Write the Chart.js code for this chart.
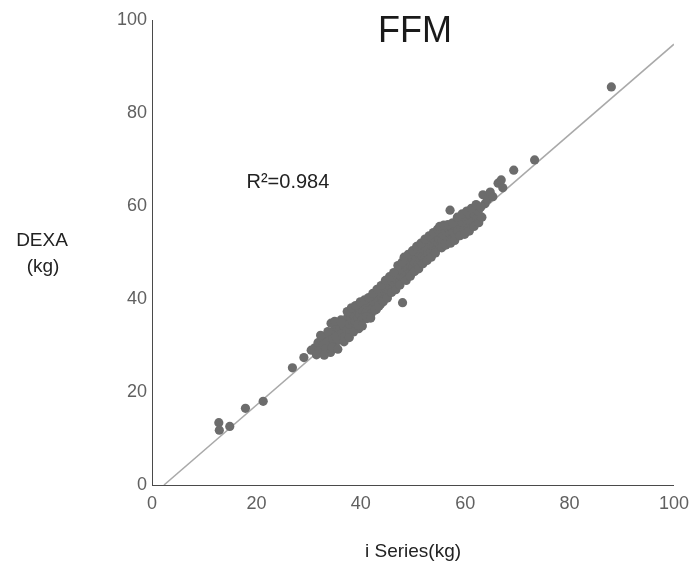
<!DOCTYPE html>
<html>
<head>
<meta charset="utf-8">
<script src="https://cdn.jsdelivr.net/npm/chart.js@4/dist/chart.umd.min.js"></script>
<style>
  html, body { margin: 0; padding: 0; background: #ffffff; }
  #wrap { width: 697px; height: 566px; }
</style>
</head>
<body>
<div id="wrap"><canvas id="c" width="697" height="566"></canvas></div>
<script>
// ---- data ----
const chartTitle = "FFM";
const xAxisTitle = "i Series(kg)";
const yAxisTitleLines = ["DEXA", "(kg)"];
const r2Label = "R\u00B2=0.984";
const r2Anchor = [18.1, 65.0];
const axisTicks = [0, 20, 40, 60, 80, 100];

const iSeriesKg = [
  12.8, 12.9, 14.9, 17.9, 21.3, 26.9, 29.1, 30.5,
  31.2, 31.8, 32.0, 32.5, 32.9, 33.3, 33.5, 33.8, 34.0, 34.2, 34.3, 34.6, 34.9, 35.1, 35.3, 35.5, 35.8, 36.0, 36.2, 36.4,
  36.7, 36.9, 37.1, 37.3, 37.5, 37.7, 37.9, 38.1, 38.3, 38.5, 38.7, 38.9, 39.1, 39.3, 39.5, 39.6, 39.8, 40.0, 40.2, 40.4, 40.6, 40.8, 41.0, 41.2, 41.4, 41.6, 41.8, 42.0,
  42.2, 42.4, 42.6, 42.8, 43.0, 43.2, 43.4, 43.6, 43.8, 44.0, 44.2, 44.4, 44.6, 44.8, 45.0, 45.2, 45.4, 45.6, 45.8, 46.0, 46.2, 46.4, 46.6, 46.8, 47.0, 47.2, 47.4, 47.6, 47.8, 48.0, 48.0,
  48.2, 48.4, 48.6, 48.8, 49.0, 49.2, 49.4, 49.6, 49.8, 50.0, 50.2, 50.4, 50.6, 50.8, 51.0, 51.2, 51.4, 51.6, 51.8, 52.0, 52.2, 52.4, 52.6, 52.8, 53.0, 53.2, 53.4, 53.6, 53.8, 54.0, 54.2, 54.4, 54.6, 54.8,
  55.0, 55.2, 55.4, 55.6, 55.8, 56.0, 56.2, 56.4, 56.6, 56.8, 57.1, 57.0, 57.3, 57.5, 57.7, 57.9, 58.1, 58.4, 58.6, 58.9, 59.2, 59.5, 59.8, 60.1, 60.4, 60.7, 61.0, 61.3, 61.6, 61.9, 62.2, 62.5,
  63.4, 63.8, 64.3, 64.8, 65.3, 66.3, 66.9, 67.2, 69.3, 73.3, 88.0,
  31.5, 32.3, 33.0, 33.7, 34.5, 35.0, 35.6, 36.3, 36.8, 37.4, 37.8, 38.2, 38.6, 39.0, 39.4, 39.9, 40.3, 40.7, 41.1, 41.5, 41.9,
  42.3, 42.7, 43.1, 43.5, 43.9, 44.3, 44.7, 45.1, 45.5, 45.9, 46.3, 46.7, 47.1, 47.5, 47.9,
  48.3, 48.7, 49.1, 49.5, 49.9, 50.3, 50.7, 51.1, 51.5, 51.9, 52.3, 52.7, 53.1, 53.5, 53.9, 54.3, 54.7,
  55.1, 55.5, 55.9, 56.3, 56.7, 57.2, 57.6, 58.0, 58.5, 59.0, 59.4, 59.9, 60.3, 60.8, 61.2, 61.7, 62.1, 62.6, 63.0, 63.2
];
const dexaKg = [
  13.4, 11.8, 12.6, 16.5, 18.0, 25.2, 27.4, 29.0,
  29.5, 30.6, 28.9, 31.0, 30.2, 29.4, 31.8, 30.9, 32.4, 28.5, 34.8, 31.5, 33.2, 30.4, 32.0, 34.0, 31.2, 33.5, 35.5, 32.6,
  34.3, 31.9, 35.0, 33.4, 36.2, 34.7, 32.8, 35.8, 37.0, 34.1, 36.5, 35.2, 33.6, 37.4, 35.9, 33.6, 36.8, 38.2, 35.4, 37.3, 36.1, 38.8, 37.0, 35.8, 38.3, 39.2, 37.6, 36.9,
  39.5, 38.1, 40.2, 39.0, 37.8, 40.8, 39.7, 41.3, 38.9, 40.5, 42.0, 40.0, 41.6, 42.7, 40.9, 43.1, 41.8, 42.5, 44.0, 42.2, 43.6, 44.6, 42.9, 45.3, 44.1, 46.0, 43.5, 45.0, 46.7, 39.2, 45.8,
  44.6, 47.2, 45.9, 47.9, 46.4, 48.3, 45.5, 47.0, 48.8, 46.9, 49.4, 47.8, 48.9, 50.1, 47.5, 49.6, 48.4, 50.6, 49.1, 51.2, 48.7, 50.3, 51.8, 49.8, 50.9, 52.4, 50.0, 51.5, 53.0, 51.0, 52.6, 50.6, 53.5, 52.0,
  53.0, 51.4, 54.1, 52.5, 53.8, 55.0, 52.0, 54.5, 53.2, 55.2, 59.1, 54.0, 52.8, 55.2, 54.3, 55.8, 53.6, 55.6, 54.6, 57.0, 55.1, 56.4, 54.8, 57.5, 56.0, 55.3, 57.9, 56.5, 58.4, 59.6, 57.2, 58.8,
  62.4, 60.5, 61.4, 63.0, 62.0, 64.9, 65.6, 63.9, 67.7, 69.9, 85.6,
  28.0, 32.2, 27.9, 33.0, 29.6, 35.2, 29.2, 34.9, 30.8, 37.3, 31.7, 38.1, 32.9, 38.6, 34.4, 39.4, 34.2, 39.8, 36.2, 40.3, 35.9,
  41.2, 37.6, 42.1, 38.5, 42.9, 39.4, 44.0, 40.2, 44.8, 41.4, 45.7, 42.0, 47.2, 43.0, 47.9,
  49.0, 44.0, 49.6, 44.9, 50.4, 45.9, 51.3, 46.5, 52.0, 47.6, 52.9, 48.3, 53.6, 49.0, 54.3, 49.9, 55.0,
  55.6, 51.0, 55.9, 51.6, 56.0, 52.0, 56.4, 52.6, 57.6, 53.6, 58.3, 53.9, 58.9, 54.6, 59.5, 55.6, 60.3, 56.4, 59.8, 57.6
];
const refLineX = [2.3, 100];
const refLineY = [0, 94.8];

// ---- build datasets from arrays ----
const scatterPoints = iSeriesKg.map((x, i) => ({ x: x, y: dexaKg[i] }));
const linePoints = refLineX.map((x, i) => ({ x: x, y: refLineY[i] }));

const FONT = "'Liberation Sans', Arial, sans-serif";

const textPlugin = {
  id: 'extraText',
  afterDraw(chart) {
    const ctx = chart.ctx;
    const xs = chart.scales.x, ys = chart.scales.y;
    const area = chart.chartArea;
    ctx.save();
    ctx.fillStyle = '#1a1a1a';
    ctx.font = '36px ' + FONT;
    ctx.textAlign = 'center';
    ctx.textBaseline = 'middle';
    ctx.fillText(chartTitle, (area.left + area.right) / 2 + 2, area.top + 12);
    ctx.font = '20px ' + FONT;
    ctx.textAlign = 'left';
    ctx.fillStyle = '#222222';
    ctx.fillText(r2Label, xs.getPixelForValue(r2Anchor[0]), ys.getPixelForValue(r2Anchor[1]));
    ctx.font = '19px ' + FONT;
    ctx.textAlign = 'center';
    ctx.fillText(yAxisTitleLines[0], 42, 241);
    ctx.fillText(yAxisTitleLines[1], 43, 267);
    ctx.restore();
  }
};

new Chart(document.getElementById('c'), {
  data: {
    datasets: [
      {
        type: 'scatter',
        data: scatterPoints,
        backgroundColor: '#6c6c6c',
        borderColor: '#6c6c6c',
        borderWidth: 0,
        pointRadius: 4.6,
        order: 1
      },
      {
        type: 'line',
        data: linePoints,
        borderColor: '#a9a9a9',
        borderWidth: 1.5,
        pointRadius: 0,
        fill: false,
        order: 2
      }
    ]
  },
  options: {
    responsive: false,
    animation: false,
    events: [],
    layout: { padding: { top: 20, right: 20, left: 0, bottom: 0 } },
    plugins: { legend: { display: false }, tooltip: { enabled: false }, title: { display: false } },
    scales: {
      x: {
        type: 'linear',
        min: 0, max: 100,
        afterBuildTicks(scale) { scale.ticks = axisTicks.map(v => ({ value: v })); },
        afterFit(scale) { scale.height = 81; },
        grid: { display: false, drawTicks: false },
        border: { display: true, color: '#4a4a4a', width: 1 },
        ticks: { color: '#606060', padding: 8, font: { family: FONT, size: 18 }, maxRotation: 0 },
        title: { display: true, text: xAxisTitle, color: '#222222', font: { family: FONT, size: 19 }, padding: { top: 0, bottom: 3 } }
      },
      y: {
        type: 'linear',
        min: 0, max: 100,
        afterBuildTicks(scale) { scale.ticks = axisTicks.map(v => ({ value: v })); },
        afterFit(scale) { scale.width = 152; },
        grid: { display: false, drawTicks: false },
        border: { display: true, color: '#4a4a4a', width: 1 },
        ticks: { color: '#606060', padding: 5, font: { family: FONT, size: 18 } }
      }
    }
  },
  plugins: [textPlugin]
});
</script>
</body>
</html>
